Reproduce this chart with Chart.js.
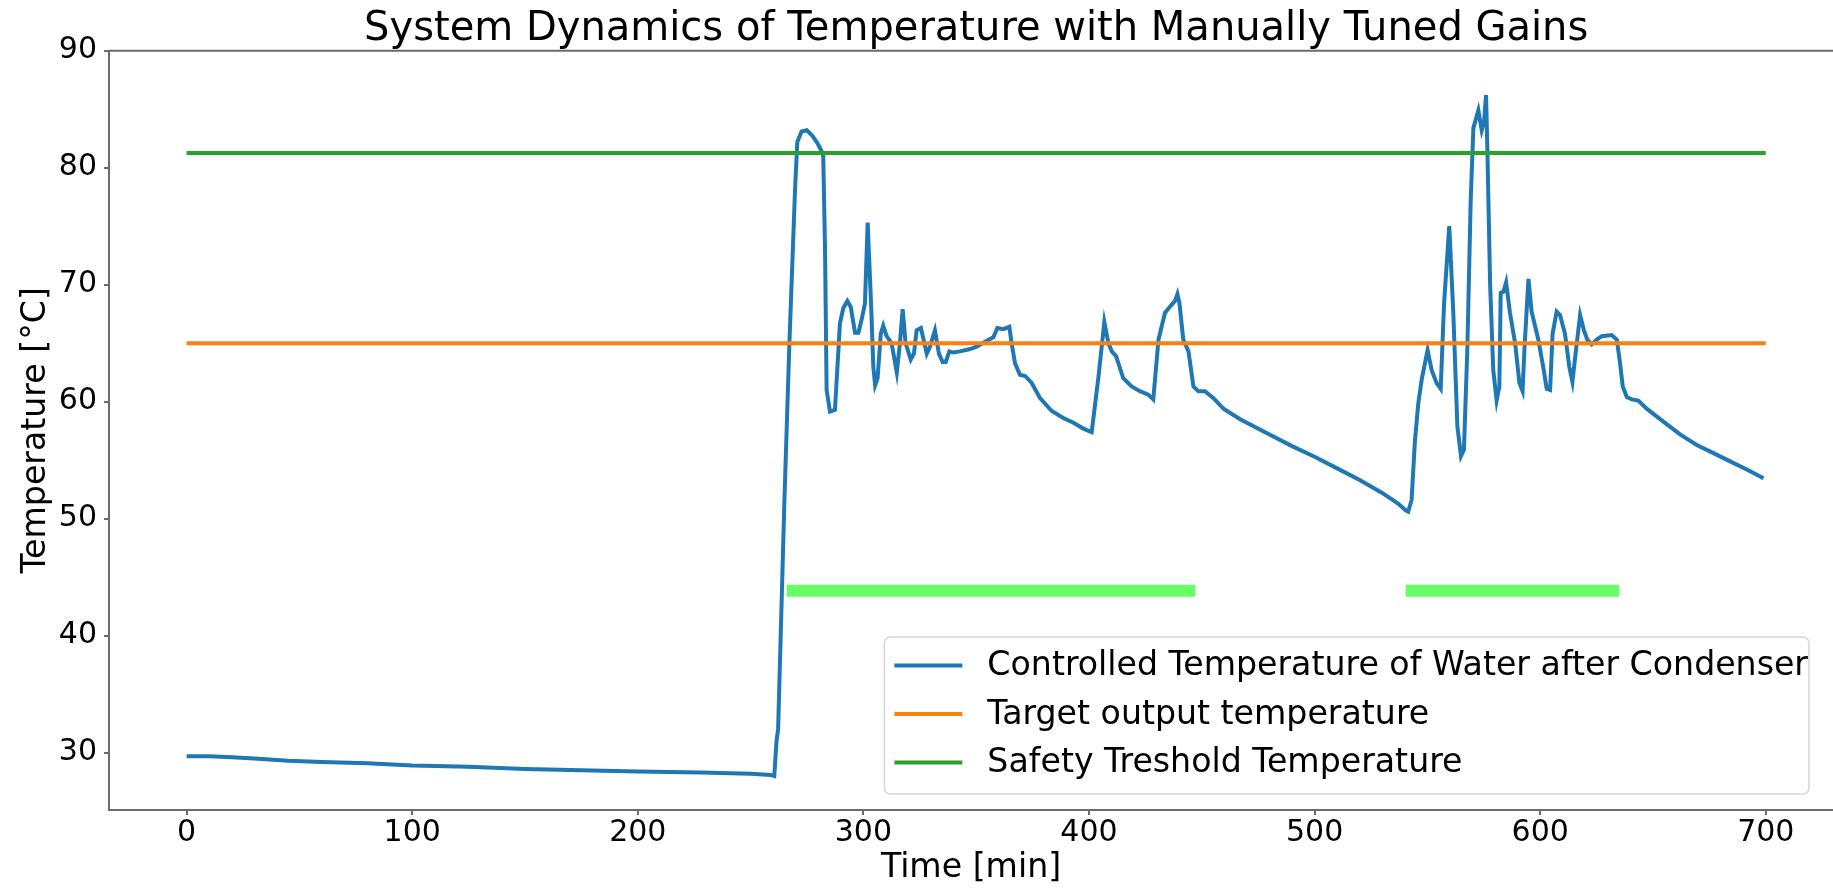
<!DOCTYPE html>
<html>
<head>
<meta charset="utf-8">
<title>System Dynamics of Temperature</title>
<script src="https://cdn.jsdelivr.net/npm/chart.js@4.4.1/dist/chart.umd.min.js"></script>
<style>
  html, body { margin: 0; padding: 0; background: #fff; }
  #wrap { width: 1833px; height: 888px; }
</style>
</head>
<body>
<div id="wrap"><canvas id="tempChart"></canvas></div>
<script>
// measured water temperature after the condenser
var timeMin = [
  0, 10, 20, 30, 45, 60, 80, 100, 125, 150, 175, 200, 228, 250, 259, 260.5,
  261.5, 262.2, 265, 267.2, 269.7, 270.7, 272.6, 274.9, 277.1, 279.6, 281.5, 282.2,
  283.0, 283.7, 285.2, 287.4, 288.5, 289.6, 291.1, 292.9, 294.4, 296.3, 297.8, 299.2,
  300.7, 301.9, 303.4, 304.4, 305.2, 306.3, 307.7, 308.8, 310.3, 312.5, 314.8, 316.2,
  317.4, 318.7, 321.0, 322.4, 323.6, 325.5, 328.1, 329.5, 331.7, 333.5, 335.1, 336.5,
  338.1, 339.9, 342.8, 347.3, 350.2, 354.7, 357.6, 359.4, 362.0, 364.7, 365.7, 367.2,
  369.4, 371.7, 374.6, 378.3, 383.5, 388.6, 393.1, 397.5, 401.2, 404.2, 406.8, 408.6,
  410.1, 412.0, 415.2, 418.9, 422.6, 426.3, 428.5, 430.8, 433.7, 436.7, 438.1, 439.2,
  440.1, 441.8, 444.1, 446.3, 448.5, 451.4, 455.2, 459.6, 467.0, 480, 490, 500,
  510, 520, 530, 537, 540.5, 541.5, 543.0, 544.5, 546.0, 547.5, 550.1, 551.9,
  554.1, 555.9, 557.4, 559.7, 561.5, 563.3, 564.9, 566.2, 567.7, 569.2, 570.4, 572.6,
  574.1, 575.1, 576.0, 576.6, 577.8, 579.2, 580.7, 581.9, 582.5, 583.7, 584.9, 586.6,
  588.9, 590.8, 592.2, 593.0, 594.8, 596.2, 599.2, 601.4, 602.9, 604.4, 605.5, 607.3,
  608.8, 611.0, 612.9, 614.3, 615.5, 617.7, 619.4, 620.9, 622.8, 625.1, 627.3, 631.7,
  634.0, 635.4, 636.6, 638.4, 640.6, 643.5, 647.2, 654.6, 662.0, 669.4, 676.8, 684.2,
  691.6, 699.0
];
var tempC = [
  29.7, 29.7, 29.6, 29.5, 29.3, 29.2, 29.1, 28.9, 28.8, 28.6, 28.5, 28.4, 28.3, 28.2, 28.1, 28.0,
  31.0, 32.0, 51.6, 65.0, 78.1, 82.2, 83.1, 83.2, 82.8, 82.1, 81.4, 81.0,
  73.0, 61.0, 59.15, 59.3, 63.0, 66.7, 68.0, 68.6, 68.1, 65.9, 65.9, 67.0,
  68.4, 75.3, 68.4, 63.0, 61.4, 62.0, 65.8, 66.5, 65.6, 65.0, 62.5, 65.0,
  67.9, 65.0, 63.6, 64.1, 66.1, 66.3, 64.1, 64.7, 66.1, 64.1, 63.4, 63.4,
  64.3, 64.2, 64.3, 64.5, 64.7, 65.2, 65.5, 66.3, 66.2, 66.4, 65.0, 63.3,
  62.3, 62.2, 61.6, 60.3, 59.2, 58.6, 58.2, 57.7, 57.4, 62.1, 66.8, 65.0,
  64.3, 63.9, 62.0, 61.3, 60.9, 60.6, 60.2, 65.3, 67.6, 68.3, 68.6, 69.2,
  68.4, 65.3, 64.3, 61.3, 60.9, 60.9, 60.3, 59.4, 58.5, 57.2, 56.2, 55.3,
  54.3, 53.3, 52.2, 51.3, 50.7, 50.6, 51.6, 56.7, 59.9, 61.9, 64.4, 62.7,
  61.6, 61.1, 68.4, 75.0, 67.55, 57.9, 55.36, 55.9, 64.4, 77.2, 83.4, 84.9,
  83.2, 83.9, 86.2, 81.5, 70.1, 62.7, 60.1, 61.3, 69.3, 69.4, 70.2, 67.6,
  65.0, 61.6, 60.9, 64.4, 70.5, 67.7, 65.3, 62.9, 61.1, 61.0, 65.8, 67.7,
  67.4, 65.8, 63.0, 61.7, 63.8, 67.4, 66.1, 65.3, 64.9, 65.3, 65.6, 65.7,
  65.3, 63.3, 61.3, 60.4, 60.2, 60.1, 59.4, 58.3, 57.2, 56.3, 55.6, 54.9,
  54.2, 53.45
];

// reference levels
var targetTemp = 65;
var safetyTemp = 81.25;
var lineSpan = [0, 700];

// periods marked along the bottom
var heatingStart = [266, 540.5];
var heatingEnd = [447.1, 634.9];
var heatingLevel = 43.85;

var xTicks = [0, 100, 200, 300, 400, 500, 600, 700];
var yTicks = [30, 40, 50, 60, 70, 80, 90];

var seriesLabels = [
  'Controlled Temperature of Water after Condenser',
  'Target output temperature',
  'Safety Treshold Temperature'
];
var chartTitle = 'System Dynamics of Temperature with Manually Tuned Gains';

var FONT = 'DejaVu Sans';
var AXIS = '#6b6b6b';
// x limits of the full axes; the canvas ends a little before xAxisEnd
var xAxisStart = -34.4;
var xAxisEnd = 734.4;

var waterPoints = timeMin.map(function (t, i) { return { x: t, y: tempC[i] }; });
var heatingPoints = [];
heatingStart.forEach(function (s, i) {
  heatingPoints.push({ x: s, y: heatingLevel });
  heatingPoints.push({ x: heatingEnd[i], y: heatingLevel });
  heatingPoints.push({ x: heatingEnd[i], y: null });
});

// title over the axes, top spine and the legend box in the lower right
var frame = {
  id: 'frame',
  afterDraw: function (chart) {
    var ctx = chart.ctx;
    var area = chart.chartArea;
    var xs = chart.scales.x;
    ctx.save();

    ctx.font = '40px "' + FONT + '"';
    ctx.fillStyle = '#000';
    ctx.textAlign = 'center';
    ctx.textBaseline = 'alphabetic';
    var cx = (xs.getPixelForValue(xAxisStart) + xs.getPixelForValue(xAxisEnd)) / 2;
    ctx.fillText(chartTitle, cx, 40);

    ctx.strokeStyle = AXIS;
    ctx.lineWidth = 2;
    ctx.beginPath();
    ctx.moveTo(area.left, area.top);
    ctx.lineTo(area.right, area.top);
    ctx.stroke();

    ctx.font = '33.2px "' + FONT + '"';
    var textW = 0;
    seriesLabels.forEach(function (s) { textW = Math.max(textW, ctx.measureText(s).width); });
    var boxR = area.right - 24;
    var boxB = area.bottom - 16;
    var boxH = 157;
    var boxW = textW + 104;
    var boxL = boxR - boxW;
    var boxT = boxB - boxH;

    ctx.beginPath();
    ctx.roundRect(boxL, boxT, boxW, boxH, 6);
    ctx.fillStyle = 'rgba(255,255,255,0.8)';
    ctx.fill();
    ctx.strokeStyle = '#d6d6d6';
    ctx.lineWidth = 1.5;
    ctx.stroke();

    ctx.textBaseline = 'middle';
    ctx.textAlign = 'left';
    for (var i = 0; i < 3; i++) {
      var ds = chart.data.datasets[i];
      var y = boxT + 28.5 + i * 48.5;
      ctx.strokeStyle = ds.borderColor;
      ctx.lineWidth = 4;
      ctx.beginPath();
      ctx.moveTo(boxL + 10, y);
      ctx.lineTo(boxL + 78, y);
      ctx.stroke();
      ctx.fillStyle = '#000';
      ctx.fillText(ds.label, boxL + 103, y + 1);
    }
    ctx.restore();
  }
};

var ctx = document.getElementById('tempChart').getContext('2d');
var myChart = new Chart(ctx, {
  type: 'line',
  data: {
    datasets: [{
      label: seriesLabels[0],
      data: waterPoints,
      borderColor: '#1f77b4',
      borderWidth: 4,
      pointRadius: 0,
      tension: 0,
      order: 3
    }, {
      label: seriesLabels[1],
      data: lineSpan.map(function (t) { return { x: t, y: targetTemp }; }),
      borderColor: '#ff7f0e',
      borderWidth: 4,
      pointRadius: 0,
      order: 2
    }, {
      label: seriesLabels[2],
      data: lineSpan.map(function (t) { return { x: t, y: safetyTemp }; }),
      borderColor: '#2ca02c',
      borderWidth: 4,
      pointRadius: 0,
      order: 1
    }, {
      label: 'heating',
      data: heatingPoints,
      borderColor: '#66ff66',
      borderWidth: 12,
      borderCapStyle: 'butt',
      pointRadius: 0,
      spanGaps: false,
      order: 0
    }]
  },
  options: {
    responsive: true,
    maintainAspectRatio: false,
    animation: false,
    layout: { padding: { top: 50.7, left: 0, right: 0, bottom: 0 } },
    plugins: {
      legend: { display: false },
      tooltip: { enabled: false },
      title: { display: false }
    },
    scales: {
      x: {
        type: 'linear',
        min: xAxisStart,
        max: 729.8,
        afterBuildTicks: function (scale) {
          scale.ticks = xTicks.map(function (v) { return { value: v }; });
        },
        afterFit: function (scale) { scale.height = 78; },
        grid: { drawOnChartArea: false, tickLength: 5, color: AXIS, lineWidth: 2 },
        border: { display: true, color: AXIS, width: 2 },
        ticks: { color: '#000', padding: 0, maxRotation: 0, font: { family: FONT, size: 30 } },
        title: {
          display: true,
          text: 'Time [min]',
          color: '#000',
          font: { family: FONT, size: 33.2 },
          padding: { top: -6, bottom: 0 }
        }
      },
      y: {
        min: 25.1,
        max: 90,
        afterBuildTicks: function (scale) {
          scale.ticks = yTicks.map(function (v) { return { value: v }; });
        },
        afterFit: function (scale) { scale.width = 109; },
        grid: { drawOnChartArea: false, tickLength: 5, color: AXIS, lineWidth: 2 },
        border: { display: true, color: AXIS, width: 2 },
        ticks: { color: '#000', padding: 7, font: { family: FONT, size: 30 } },
        title: {
          display: true,
          text: 'Temperature [°C]',
          color: '#000',
          font: { family: FONT, size: 33.2 },
          padding: { top: 16, bottom: 0 }
        }
      }
    }
  },
  plugins: [frame]
});
</script>
</body>
</html>
